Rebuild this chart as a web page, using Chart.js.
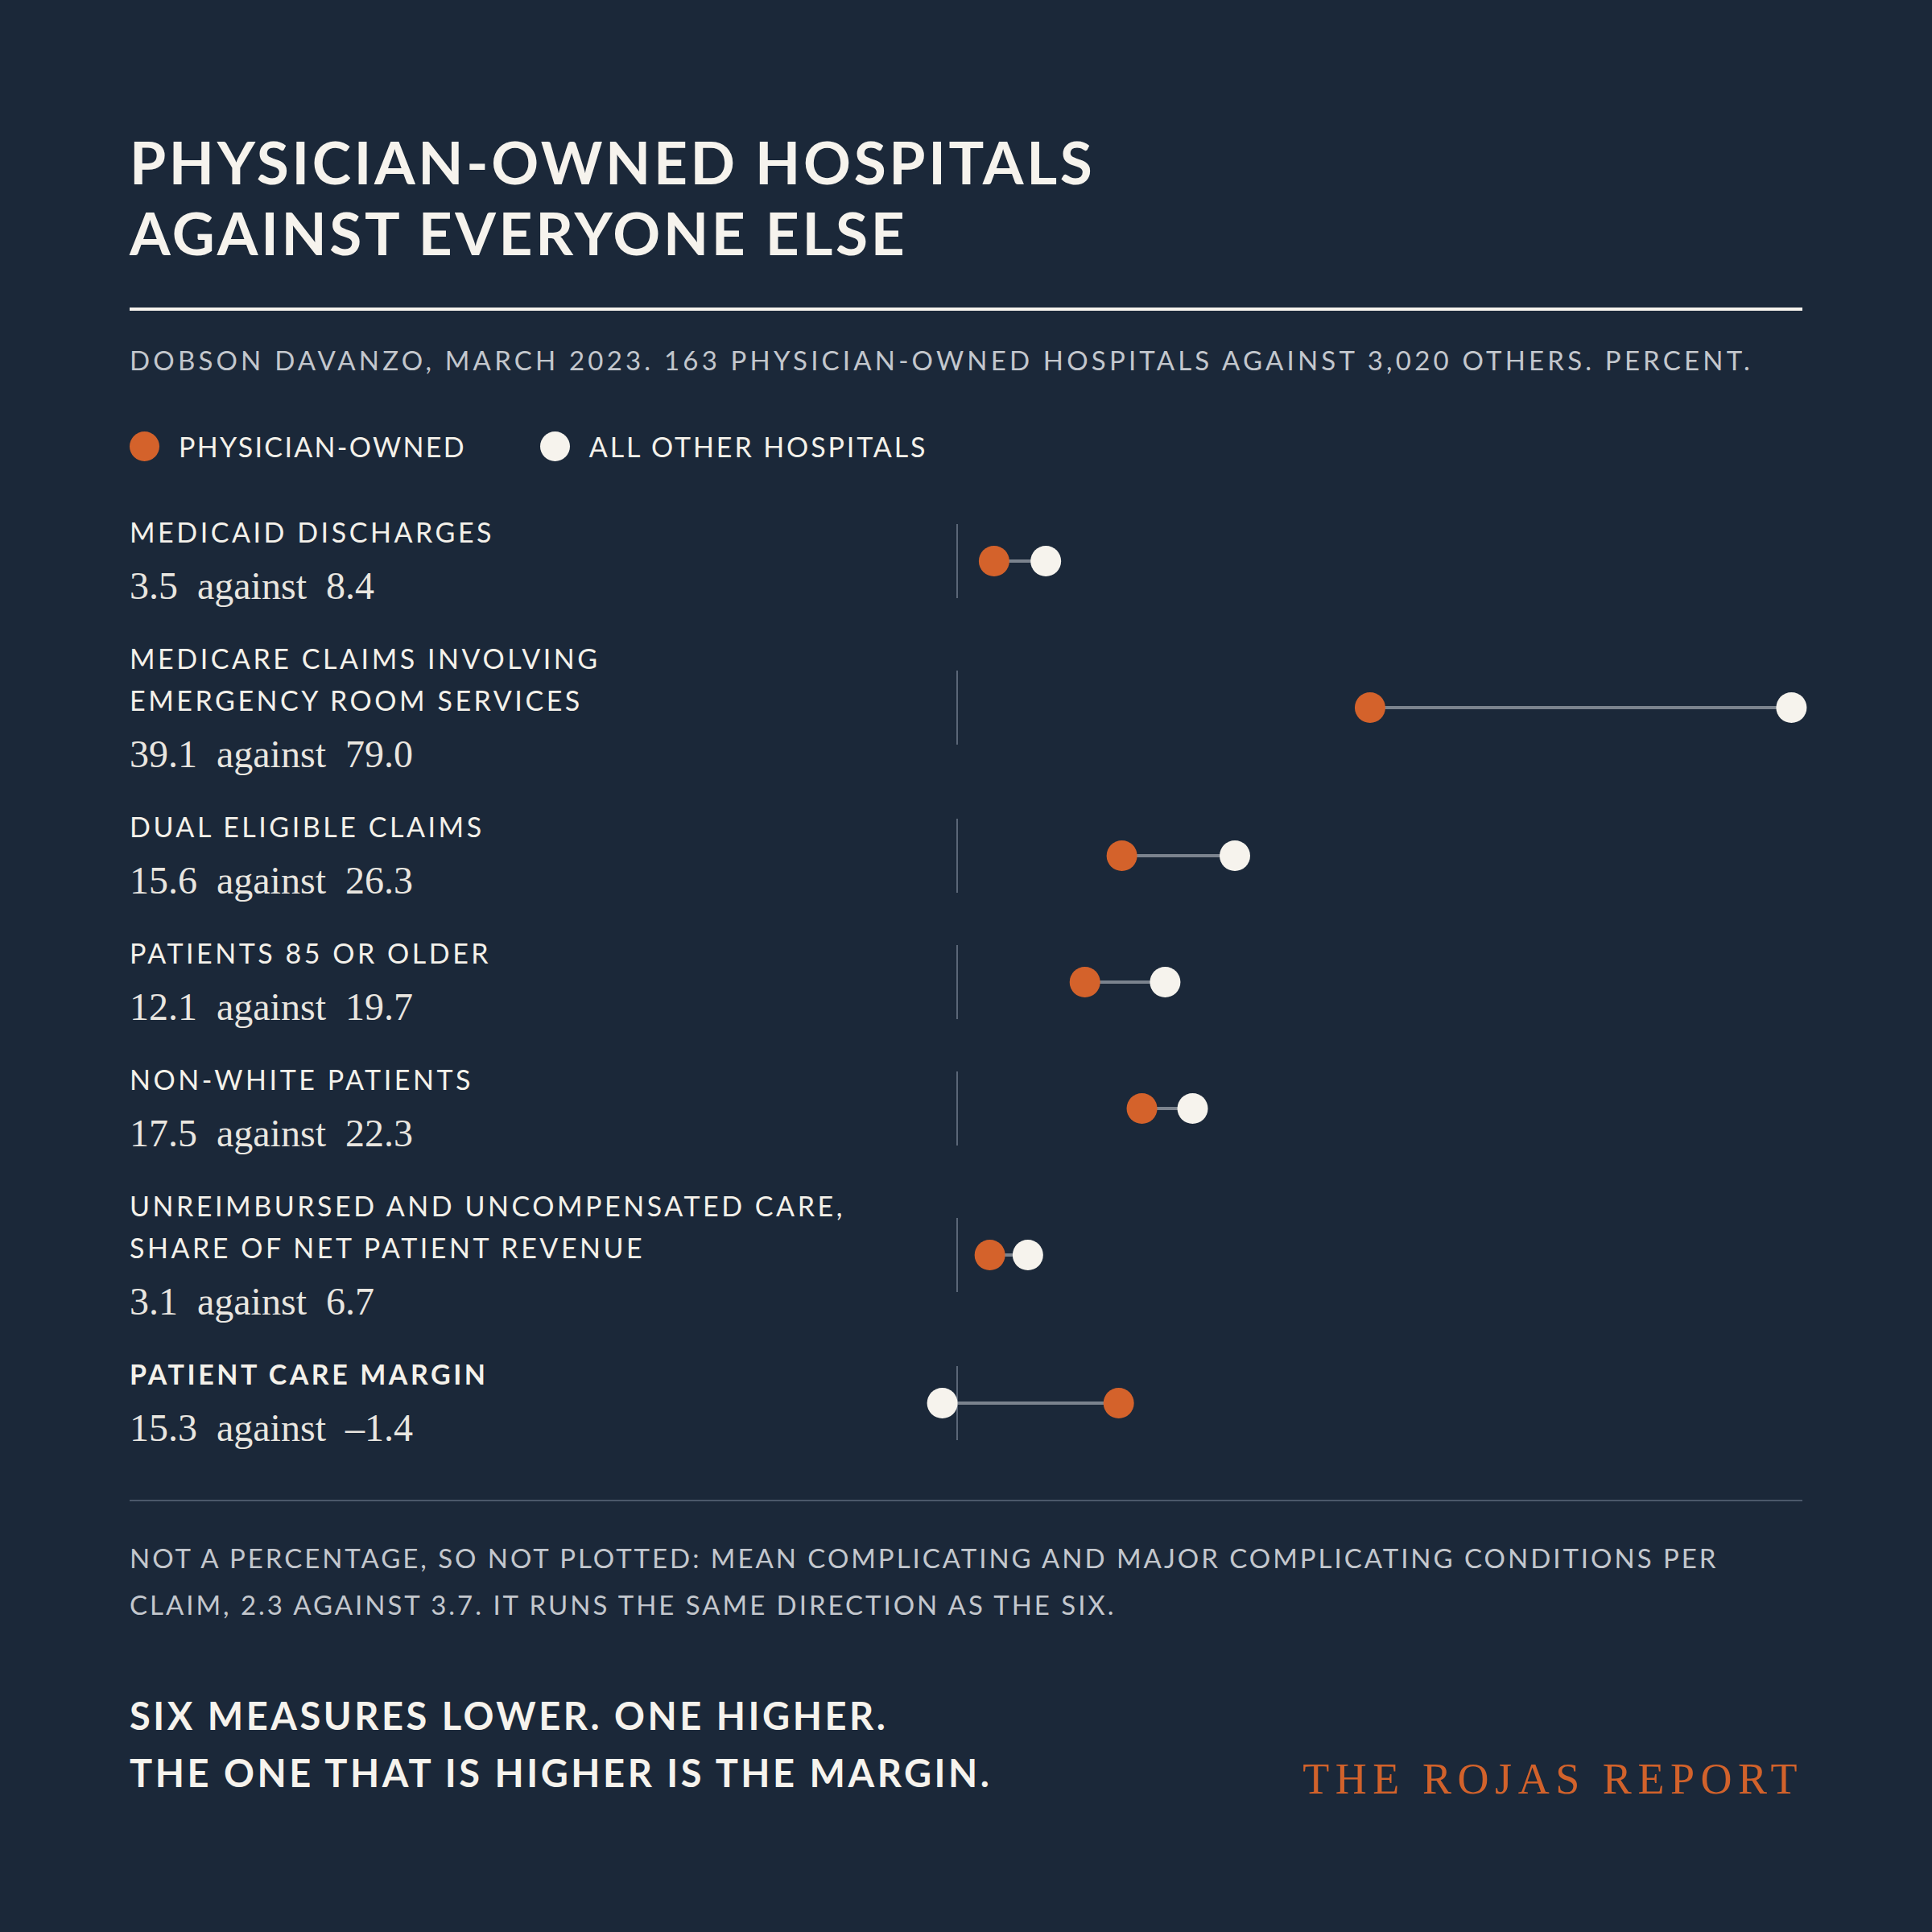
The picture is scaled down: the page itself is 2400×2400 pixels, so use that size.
<!DOCTYPE html>
<html>
<head>
<meta charset="utf-8">
<script src="https://cdn.jsdelivr.net/npm/chart.js@4.4.1/dist/chart.umd.min.js"></script>
<style>
  html, body { margin:0; padding:0; }
  body { width:2400px; height:2400px; background:#1b2839; position:relative; overflow:hidden; font-family:Lato, "Noto Sans", sans-serif; color:#f4f1ea; }
  .abs { position:absolute; }
  #title { left:161px; top:157px; font-size:73px; line-height:88px; font-weight:700; letter-spacing:0.05em; color:#f6f3ed; white-space:nowrap; }
  #rule { left:161px; top:382px; width:2078px; height:4px; background:#f6f3ed; }
  #sub { left:161px; top:426px; font-size:33px; line-height:42px; letter-spacing:0.127em; color:#c3c7cd; white-space:nowrap; }
  #legend { left:161px; top:530px; height:48px; display:flex; align-items:center; font-size:34px; letter-spacing:0.068em; color:#f4f1ea; white-space:nowrap; }
  .ldot { width:37px; height:37px; border-radius:50%; display:inline-block; margin-right:24px; }
  .litem { display:flex; align-items:center; margin-right:92px; }
  .litem:last-child span:last-child { letter-spacing:0.085em; }
  #rows { left:161px; top:635px; width:2140px; }
  .row { position:relative; margin-bottom:37px; }
  .lab { font-size:34px; line-height:52px; letter-spacing:0.104em; color:#f4f1ea; white-space:nowrap; }
  .lab.bold { font-weight:700; }
  .val { font-family:"Liberation Serif", "DejaVu Serif", serif; font-size:48px; line-height:54px; margin-top:14px; color:#e9e6e0; white-space:pre; }
  .cwrap { position:absolute; left:923px; width:1207px; height:92px; }
  #rule2 { left:161px; top:1863px; width:2078px; height:2px; background:#4b586a; }
  #foot { left:161px; top:1906px; font-size:33px; line-height:58px; letter-spacing:0.09em; color:#c3c7cd; white-space:nowrap; }
  #close { left:161px; top:2096px; font-size:47px; line-height:71px; font-weight:700; letter-spacing:0.075em; color:#f6f3ed; white-space:nowrap; }
  #brand { right:160px; top:2180px; font-family:"Liberation Serif", serif; font-size:54px; line-height:60px; letter-spacing:0.14em; color:#d2622b; white-space:nowrap; }
</style>
</head>
<body>
<div id="title" class="abs">PHYSICIAN-OWNED HOSPITALS<br>AGAINST EVERYONE ELSE</div>
<div id="rule" class="abs"></div>
<div id="sub" class="abs">DOBSON DAVANZO, MARCH 2023. 163 PHYSICIAN-OWNED HOSPITALS AGAINST 3,020 OTHERS. PERCENT.</div>
<div id="legend" class="abs"></div>
<div id="rows" class="abs"></div>
<div id="rule2" class="abs"></div>
<div id="foot" class="abs">NOT A PERCENTAGE, SO NOT PLOTTED: MEAN COMPLICATING AND MAJOR COMPLICATING CONDITIONS PER<br>CLAIM, 2.3 AGAINST 3.7. IT RUNS THE SAME DIRECTION AS THE SIX.</div>
<div id="close" class="abs">SIX MEASURES LOWER. ONE HIGHER.<br>THE ONE THAT IS HIGHER IS THE MARGIN.</div>
<div id="brand" class="abs">THE ROJAS REPORT</div>
<script>
const seriesNames = ["PHYSICIAN-OWNED", "ALL OTHER HOSPITALS"];
const categories = [
  ["MEDICAID DISCHARGES"],
  ["MEDICARE CLAIMS INVOLVING", "EMERGENCY ROOM SERVICES"],
  ["DUAL ELIGIBLE CLAIMS"],
  ["PATIENTS 85 OR OLDER"],
  ["NON-WHITE PATIENTS"],
  ["UNREIMBURSED AND UNCOMPENSATED CARE,", "SHARE OF NET PATIENT REVENUE"],
  ["PATIENT CARE MARGIN"]
];
const physicianOwned = [3.5, 39.1, 15.6, 12.1, 17.5, 3.1, 15.3];
const allOthers = [8.4, 79.0, 26.3, 19.7, 22.3, 6.7, -1.4];
const highlighted = [false, false, false, false, false, false, true];

const ORANGE = "#d4622b";
const WHITE = "#f6f3ed";
const seriesColors = [ORANGE, WHITE];

// legend
const legend = document.getElementById("legend");
seriesNames.forEach((n, i) => {
  const it = document.createElement("div");
  it.className = "litem";
  it.innerHTML = '<span class="ldot" style="background:' + seriesColors[i] + '"></span><span>' + n + '</span>';
  legend.appendChild(it);
});

function fmt(v) {
  const s = Math.abs(v).toFixed(1);
  return v < 0 ? "\u2013" + s : s;
}

const rows = document.getElementById("rows");
categories.forEach((lines, i) => {
  const row = document.createElement("div");
  row.className = "row";
  const lab = document.createElement("div");
  lab.className = "lab" + (highlighted[i] ? " bold" : "");
  lab.innerHTML = lines.join("<br>");
  const val = document.createElement("div");
  val.className = "val";
  val.textContent = fmt(physicianOwned[i]) + "  against  " + fmt(allOthers[i]);
  row.appendChild(lab);
  row.appendChild(val);
  const wrap = document.createElement("div");
  wrap.className = "cwrap";
  const center = 62 + (lines.length - 1) * 25;
  wrap.style.top = (center - 46) + "px";
  const cv = document.createElement("canvas");
  cv.width = 1207; cv.height = 92;
  cv.style.width = "1207px"; cv.style.height = "92px";
  wrap.appendChild(cv);
  row.appendChild(wrap);
  rows.appendChild(row);

  new Chart(cv, {
    type: "scatter",
    data: {
      datasets: [
        { label: seriesNames[0], data: [{x: physicianOwned[i], y: 0}], backgroundColor: ORANGE, borderWidth: 0, pointRadius: 19, pointHoverRadius: 19, order: 0 },
        { label: seriesNames[1], data: [{x: allOthers[i], y: 0}], backgroundColor: WHITE, borderWidth: 0, pointRadius: 19, pointHoverRadius: 19, order: 1 },
        { type: "line", label: "gap", data: [{x: physicianOwned[i], y: 0}, {x: allOthers[i], y: 0}], borderColor: "#7b838e", borderWidth: 4, pointRadius: 0, showLine: true, fill: false, order: 5 }
      ]
    },
    options: {
      responsive: false,
      animation: false,
      devicePixelRatio: 1,
      layout: { padding: 0, autoPadding: false },
      plugins: { legend: { display: false }, tooltip: { enabled: false } },
      scales: {
        x: {
          type: "linear", min: -8, max: 84,
          afterBuildTicks: (s) => { s.ticks = [{ value: 0 }]; },
          ticks: { display: false },
          border: { display: false },
          grid: { drawTicks: false, color: "#5a6677", lineWidth: 2 }
        },
        y: { type: "linear", min: -1, max: 1, display: false }
      }
    }
  });
});
</script>
</body>
</html>
